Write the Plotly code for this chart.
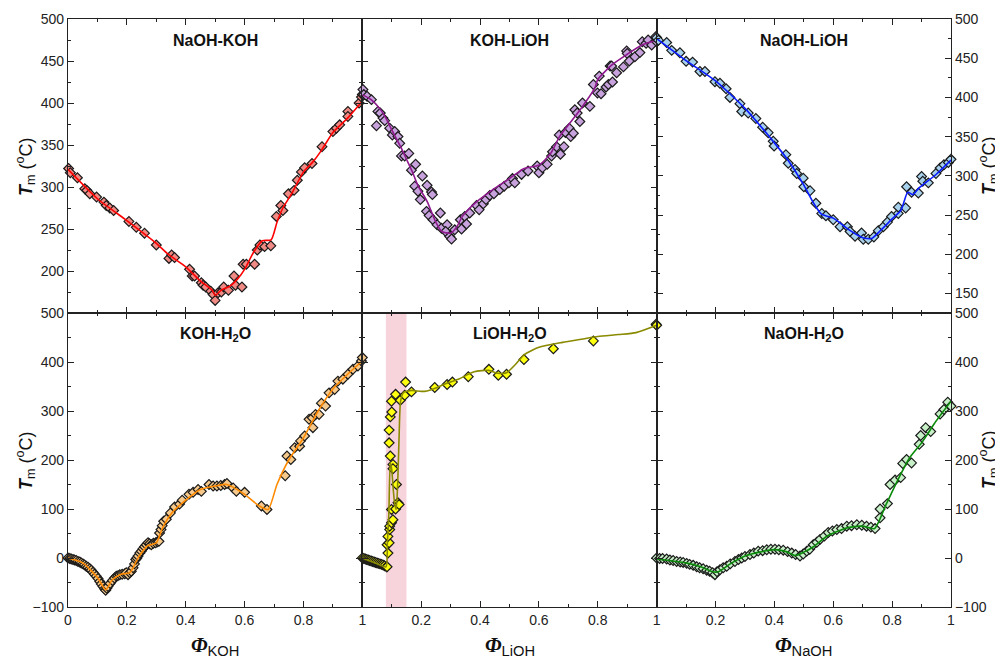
import plotly.graph_objects as go
from plotly.subplots import make_subplots

# ---------------- data ----------------
# NaOH-KOH (x = Phi_KOH)
nk_px = [0.002,0.008,0.032,0.057,0.064,0.074,0.097,0.122,0.13,0.142,0.155,0.207,0.232,0.26,0.30,0.343,0.352,0.362,
         0.413,0.422,0.43,0.453,0.459,0.468,0.485,0.493,0.5,0.51,0.521,0.529,0.545,0.564,0.569,0.591,0.595,0.606,0.634,
         0.643,0.652,0.668,0.689,0.708,0.723,0.73,0.749,0.768,0.779,0.793,0.804,0.829,0.863,0.9,0.912,0.923,0.951,0.951,
         0.989,0.997,1.0]
nk_py = [322,317,311,298,296,292,288,282,278,275,272,259,252,245,231,215,219,216,
         202,194,194,186,183,181,176,172,165,174,175,181,177,194,183,181,208,208,208,
         225,231,229,230,265,278,272,292,296,308,318,323,328,348,366,370,374,390,384,
         400,407,410]
nk_lx = [0,0.1,0.2,0.3,0.34,0.4,0.45,0.49,0.5,0.52,0.55,0.575,0.6,0.63,0.66,0.69,0.71,0.73,0.76,0.8,0.83,0.86,0.9,0.95,1.0]
nk_ly = [321,286,260,233,220,205,188,177,171,177,182,190,202,222,236,237,258,275,292,318,329,343,365,382,402]

# KOH-LiOH (x = Phi_LiOH)
kl_px = [0.002,0.005,0.016,0.031,0.048,0.053,0.061,0.07,0.076,0.093,0.102,0.11,0.121,0.127,0.133,0.144,0.158,0.167,
         0.181,0.178,0.189,0.197,0.204,0.22,0.235,0.238,0.218,0.227,0.24,0.254,0.265,0.269,0.288,0.283,0.297,0.303,
         0.314,0.333,0.337,0.348,0.354,0.365,0.388,0.397,0.411,0.42,0.433,0.447,0.467,0.482,0.498,0.51,0.518,0.541,
         0.563,0.594,0.6,0.612,0.628,0.643,0.646,0.66,0.669,0.673,0.685,0.69,0.703,0.708,0.717,0.722,0.73,0.739,0.748,
         0.773,0.785,0.799,0.805,0.811,0.828,0.836,0.842,0.847,0.85,0.864,0.887,0.898,0.9,0.907,0.926,0.943,0.951,
         0.964,0.971,0.983,0.997,1.0]
kl_py = [416,410,408,404,373,390,388,382,379,370,362,366,360,352,337,337,340,320,
         327,301,295,285,313,302,294,291,271,266,261,255,269,251,255,247,241,238,
         249,261,250,265,256,269,278,273,280,285,290,292,297,301,305,310,305,315,
         319,325,317,323,327,337,342,348,362,339,348,365,370,360,364,392,388,378,400,
         396,422,412,432,411,419,422,444,444,425,436,443,462,459,450,455,460,473,
         471,475,469,479,473]
kl_lx = [0,0.03,0.06,0.08,0.1,0.13,0.15,0.17,0.19,0.22,0.25,0.27,0.3,0.32,0.34,0.38,0.44,0.5,0.55,0.6,0.64,0.67,
         0.74,0.79,0.8,0.85,0.9,0.95,1.0]
kl_ly = [410,404,393,382,368,348,333,318,301,283,258,247,245,252,265,280,296,310,322,326,340,360,392,418,428,446,458,469,475]

# NaOH-LiOH (x = Phi_NaOH)
nl_px = [0.0,0.006,0.034,0.051,0.079,0.1,0.122,0.147,0.164,0.198,0.215,0.236,0.249,0.283,0.289,0.311,0.337,0.36,
         0.379,0.396,0.399,0.439,0.447,0.47,0.476,0.498,0.5,0.521,0.541,0.561,0.575,0.6,0.623,0.648,0.657,0.674,0.696,
         0.702,0.719,0.738,0.753,0.77,0.784,0.798,0.821,0.821,0.846,0.849,0.866,0.889,0.9,0.904,0.923,0.949,0.963,0.976,
         0.991,1.0]
nl_py = [476,473,470,460,457,446,445,433,433,420,418,411,400,392,382,380,373,362,
         355,344,338,327,316,308,303,297,286,281,265,252,249,244,235,235,229,223,227,
         219,219,222,230,235,241,248,252,260,259,286,279,278,299,293,291,303,310,314,
         317,321]
nl_lx = [0,0.1,0.2,0.3,0.4,0.45,0.5,0.535,0.56,0.6,0.65,0.7,0.73,0.76,0.8,0.83,0.853,0.87,0.89,0.95,1.0]
nl_ly = [475,447,421,386,342,318,288,264,251,246,232,221,220,230,245,256,279,276,284,302,320]

# KOH-H2O (x = Phi_KOH)
kw_px = [0.0,0.006,0.011,0.017,0.022,0.028,0.034,0.04,0.045,0.051,0.056,0.062,0.068,0.074,0.079,0.085,0.09,0.096,
         0.102,0.108,0.113,0.119,0.124,0.128,0.132,0.136,0.143,0.151,0.158,0.164,0.17,0.176,0.184,0.193,0.198,0.204,
         0.21,0.215,0.221,0.226,0.23,0.234,0.238,0.244,0.249,0.255,0.26,0.266,0.272,0.277,0.283,0.29,0.298,0.304,
         0.309,0.311,0.316,0.32,0.325,0.334,0.348,0.362,0.379,0.388,0.411,0.425,0.442,0.453,0.479,0.493,0.506,0.519,
         0.532,0.54,0.561,0.572,0.6,0.657,0.676,0.738,0.744,0.757,0.77,0.787,0.79,0.804,0.819,0.83,0.832,0.841,0.853,
         0.861,0.875,0.887,0.906,0.917,0.934,0.951,0.968,0.985,0.997,1.0]
kw_py = [0,-1,-2,-3,-4,-5,-7,-8,-10,-12,-14,-17,-19,-22,-25,-29,-33,-37,
         -42,-48,-53,-58,-63,-66,-62,-58,-52,-46,-41,-37,-36,-34,-33,-32,-30,-34,
         -30,-27,-20,-12,-3,0,4,10,14,19,23,27,31,29,27,30,31,33,
         34,51,58,66,75,79,92,104,110,118,130,134,140,136,150,147,147,148,
         150,152,143,136,134,106,99,168,208,201,225,228,239,249,283,286,266,293,293,
         316,310,337,344,361,365,375,385,392,402,409]
kw_lx = [0,0.05,0.1,0.128,0.15,0.18,0.21,0.24,0.27,0.3,0.32,0.35,0.4,0.45,0.5,0.54,0.6,0.65,0.68,0.71,0.75,0.8,0.85,0.9,0.95,1.0]
kw_ly = [0,-10,-40,-65,-45,-33,-30,2,25,31,60,90,118,140,147,150,130,106,99,150,200,245,300,345,375,402]

# LiOH-H2O (x = Phi_LiOH)
lw_px = [0.0,0.005,0.01,0.015,0.02,0.025,0.03,0.035,0.04,0.045,0.05,0.055,0.06,0.065,0.07,0.075,0.082,
         0.084,0.087,0.084,0.091,0.087,0.093,0.093,0.099,0.104,0.099,0.113,0.121,0.125,0.116,0.104,0.104,0.095,0.091,
         0.091,0.095,0.1,0.099,0.113,0.129,0.144,0.147,0.167,0.246,0.288,0.306,0.36,0.43,0.462,0.49,0.549,0.649,0.785,
         0.998,1.0]
lw_py = [0,-1,-2,-3,-4,-5,-6,-7,-8,-9,-10,-11,-12,-13,-14,-16,-18,
         -18,10,27,31,44,58,65,72,78,99,100,113,109,150,191,182,208,235,
         261,288,298,320,334,322,332,359,339,348,354,359,370,385,373,375,405,427,443,
         477,475]
lw_lx = [0,0.04,0.08,0.085,0.09,0.095,0.1,0.105,0.11,0.115,0.12,0.125,0.13,0.14,0.15,0.17,0.2,0.22,0.25,0.28,0.33,
         0.38,0.43,0.46,0.49,0.52,0.55,0.6,0.68,0.75,0.8,0.87,0.93,1.0]
lw_ly = [0,-9,-18,30,90,195,180,140,110,99,150,250,320,338,340,342,340,341,347,355,366,380,383,377,378,395,415,430,440,447,452,456,460,475]

# NaOH-H2O (x = Phi_NaOH)
nw_px = [0.0,0.01,0.02,0.034,0.045,0.056,0.068,0.08,0.09,0.102,0.112,0.124,0.136,0.146,0.158,0.17,0.18,0.19,0.198,
         0.205,0.215,0.226,0.238,0.25,0.266,0.278,0.289,0.3,0.317,0.33,0.345,0.36,0.374,0.388,0.402,0.415,0.43,0.445,
         0.459,0.472,0.487,0.498,0.51,0.52,0.532,0.544,0.555,0.57,0.583,0.597,0.612,0.628,0.646,0.662,0.68,0.697,
         0.713,0.728,0.742,0.759,0.759,0.784,0.793,0.81,0.829,0.836,0.849,0.866,0.892,0.897,0.914,0.931,0.963,0.976,
         0.989,1.0]
nw_py = [0,-1,-1,-2,-4,-5,-7,-8,-9,-11,-13,-15,-18,-20,-22,-25,-27,-30,-34,
         -28,-24,-20,-17,-12,-7,-3,0,3,7,10,14,15,17,18,18,17,16,13,
         10,7,4,8,14,18,27,32,38,45,52,55,58,60,65,66,68,67,
         65,63,60,82,100,111,150,159,164,193,201,194,232,250,266,258,294,303,
         318,310]
nw_lx = [0,0.1,0.15,0.19,0.21,0.25,0.3,0.35,0.4,0.44,0.47,0.5,0.53,0.58,0.65,0.7,0.74,0.78,0.82,0.86,0.9,0.95,1.0]
nw_ly = [-2,-10,-18,-28,-28,-12,4,12,17,13,5,12,22,45,62,65,60,110,160,205,235,280,320]

panel_titles = ["NaOH-KOH", "KOH-LiOH", "NaOH-LiOH", "KOH-H<sub>2</sub>O", "LiOH-H<sub>2</sub>O", "NaOH-H<sub>2</sub>O"]
x_titles = ["KOH", "LiOH", "NaOH"]
shade_x = [0.08, 0.15]

series = [
    (1, 1, nk_px, nk_py, nk_lx, nk_ly, "#f08a84", "#ff0000"),
    (1, 2, kl_px, kl_py, kl_lx, kl_ly, "#c7a2dc", "#8e1a8e"),
    (1, 3, nl_px, nl_py, nl_lx, nl_ly, "#a8d2ec", "#0a1cff"),
    (2, 1, kw_px, kw_py, kw_lx, kw_ly, "#f5c98c", "#ff8a00"),
    (2, 2, lw_px, lw_py, lw_lx, lw_ly, "#ffff10", "#8a8a00"),
    (2, 3, nw_px, nw_py, nw_lx, nw_ly, "#c8f0c8", "#0a8a0a"),
]

# ---------------- figure ----------------
fig = make_subplots(rows=2, cols=3, horizontal_spacing=0, vertical_spacing=0)

for r, c, px, py, lx, ly, mcol, lcol in series:
    fig.add_trace(go.Scatter(x=px, y=py, mode="markers", cliponaxis=False,
                             marker=dict(symbol="diamond", size=7.5, color=mcol,
                                         line=dict(color="#1a1a1a", width=1.2)),
                             showlegend=False), row=r, col=c)
    fig.add_trace(go.Scatter(x=lx, y=ly, mode="lines",
                             line=dict(color=lcol, width=1.6, shape="spline", smoothing=0.6),
                             showlegend=False), row=r, col=c)

axcol = "#222222"
tickfont = dict(family="Liberation Sans, Arial", size=14, color="#222222")

for r in (1, 2):
    for c in (1, 2, 3):
        xa = dict(range=[0, 1], showgrid=False, zeroline=False, showline=True, linecolor=axcol, linewidth=1.3,
                  mirror="ticks", ticks="inside", ticklen=6, tickwidth=1.2, tickcolor=axcol, automargin=False,
                  minor=dict(dtick=0.1, tick0=0, ticks="inside", ticklen=3, tickcolor=axcol),
                  tickfont=tickfont)
        if r == 1:
            xa.update(tickvals=[0, 0.2, 0.4, 0.6, 0.8, 1.0], showticklabels=False)
        else:
            if c == 1:
                xa.update(tickvals=[0, 0.2, 0.4, 0.6, 0.8, 1.0], ticktext=["0", "0.2", "0.4", "0.6", "0.8", "1"])
            else:
                xa.update(tickvals=[0.2, 0.4, 0.6, 0.8, 1.0], ticktext=["0.2", "0.4", "0.6", "0.8", "1"])
        fig.update_xaxes(xa, row=r, col=c)

        ya = dict(showgrid=False, zeroline=False, showline=True, linecolor=axcol, linewidth=1.3,
                  mirror="ticks", ticks="inside", ticklen=6, tickwidth=1.2, tickcolor=axcol, automargin=False,
                  tickfont=tickfont)
        if r == 1:
            if c == 3:
                ya.update(range=[125, 500], tickvals=[150, 200, 250, 300, 350, 400, 450, 500], side="right",
                          minor=dict(dtick=25, tick0=0, ticks="inside", ticklen=3, tickcolor=axcol))
            else:
                ya.update(range=[150, 500], tickvals=[200, 250, 300, 350, 400, 450, 500],
                          minor=dict(dtick=25, tick0=0, ticks="inside", ticklen=3, tickcolor=axcol))
        else:
            ya.update(range=[-100, 500], tickvals=[-100, 0, 100, 200, 300, 400, 500],
                      minor=dict(dtick=50, tick0=0, ticks="inside", ticklen=3, tickcolor=axcol))
            if c == 3:
                ya.update(side="right")
        if c == 2:
            ya.update(showticklabels=False)
        fig.update_yaxes(ya, row=r, col=c)

# shaded band in LiOH-H2O
fig.add_shape(type="rect", xref="x5", yref="y5 domain", x0=shade_x[0], x1=shade_x[1], y0=0, y1=1,
              fillcolor="#f7d3dc", line=dict(width=0), layer="below")

ann = []
for i, t in enumerate(panel_titles):
    ax = "x" if i == 0 else "x%d" % (i + 1)
    ay = "y" if i == 0 else "y%d" % (i + 1)
    ann.append(dict(text="<b>%s</b>" % t, xref=ax + " domain", yref=ay + " domain", x=0.5, y=0.928,
                    xanchor="center", yanchor="middle", showarrow=False,
                    font=dict(family="Liberation Sans, Arial", size=16, color="#111111")))

ytitle = "<b><i>T</i></b><sub>m</sub> (<sup>o</sup>C)"
for yy in (0.75, 0.25):
    ann.append(dict(text=ytitle, xref="paper", yref="paper", x=-0.0487, y=yy, textangle=-90,
                    xanchor="center", yanchor="middle", showarrow=False,
                    font=dict(family="Liberation Sans, Arial", size=18, color="#111111")))
    ann.append(dict(text=ytitle, xref="paper", yref="paper", x=1.042, y=yy, textangle=-90,
                    xanchor="center", yanchor="middle", showarrow=False,
                    font=dict(family="Liberation Sans, Arial", size=18, color="#111111")))

for i, s in enumerate(x_titles):
    ann.append(dict(text="<span style='font-family:Liberation Serif'><b><i>Φ</i></b></span><sub>%s</sub>" % s,
                    xref="paper", yref="paper", x=(2 * i + 1) / 6, y=-0.066,
                    xanchor="center", yanchor="middle", showarrow=False,
                    font=dict(family="Liberation Sans, Arial", size=21, color="#111111")))

# the page body adds an 8 px offset, so the figure is sized to fit the 1003x660 window
fig.update_layout(width=995, height=652, margin=dict(l=60, r=52, t=11, b=53, autoexpand=False),
                  plot_bgcolor="white", paper_bgcolor="white", annotations=ann, showlegend=False)

fig.write_html("out.html")
